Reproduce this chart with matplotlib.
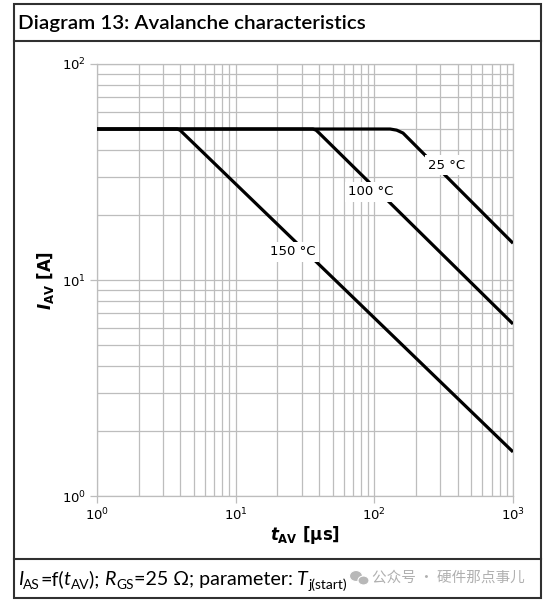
import matplotlib
matplotlib.use('Agg')
import matplotlib.pyplot as plt
import matplotlib.ticker as mticker
from matplotlib.patches import Rectangle, Ellipse
from matplotlib.lines import Line2D

# curve data (t in us, I in A)
t_25 = [1, 130, 145, 161, 1000]
i_25 = [50, 50, 49.4, 47.9, 14.8]
t_100 = [1, 36.1, 38.0, 40.0, 1000]
i_100 = [50, 50, 49.4, 47.9, 6.26]
t_150 = [1, 3.78, 3.97, 4.17, 1000]
i_150 = [50, 50, 49.4, 47.9, 1.60]
curve_labels = ['25 °C', '100 °C', '150 °C']
label_pos = [(334, 34), (94.6, 25.6), (25.9, 13.5)]

W, H = 543, 600
plt.rcParams['mathtext.fontset'] = 'custom'
plt.rcParams['mathtext.rm'] = 'DejaVu Sans:bold'
plt.rcParams['mathtext.it'] = 'DejaVu Sans:bold:italic'
plt.rcParams['mathtext.bf'] = 'DejaVu Sans:bold'

fig = plt.figure(figsize=(W/100, H/100), dpi=100)
renderer = fig.canvas.get_renderer()

def fx(px):
    return px / W

def fy(py):
    return 1 - py / H

ax = fig.add_axes([fx(97), fy(496), fx(513) - fx(97), fy(64) - fy(496)])
gridc = '#bdbdbd'
for t, i in [(t_25, i_25), (t_100, i_100), (t_150, i_150)]:
    ax.plot(t, i, color='black', lw=2.3, solid_capstyle='butt', zorder=3)

ax.set_xscale('log')
ax.set_yscale('log')
ax.set_xlim(1, 1000)
ax.set_ylim(1, 100)
ax.xaxis.set_minor_locator(mticker.LogLocator(subs=range(2, 10)))
ax.yaxis.set_minor_locator(mticker.LogLocator(subs=range(2, 10)))
ax.xaxis.set_minor_formatter(mticker.NullFormatter())
ax.yaxis.set_minor_formatter(mticker.NullFormatter())
ax.grid(True, which='both', color=gridc, lw=0.9)
for s in ax.spines.values():
    s.set_color(gridc)
    s.set_linewidth(0.9)
ax.tick_params(which='major', length=5, width=0.9, color=gridc, labelsize=9.5, pad=3)
ax.tick_params(which='minor', length=0)

for lab, (x, y) in zip(curve_labels, label_pos):
    ax.text(x, y, lab, fontsize=9.5, ha='center', va='center', zorder=4,
            bbox=dict(facecolor='white', edgecolor='none', pad=2.5))

fig.text(fx(305), fy(535), r'$\mathit{t}_{\mathrm{AV}}$ [µs]', fontsize=12,
         fontweight='bold', ha='center', va='center')
fig.text(fx(45), fy(280), r'$\mathit{I}_{\mathrm{AV}}$ [A]', fontsize=12,
         fontweight='bold', ha='center', va='center', rotation=90)

# frame around the chart
fc = '#303030'
fig.add_artist(Rectangle((fx(13.5), fy(598)), fx(541) - fx(13.5), fy(4) - fy(598),
                         transform=fig.transFigure, fill=False, ec=fc, lw=1.5))
for py in [41, 559]:
    fig.add_artist(Line2D([fx(13.5), fx(541)], [fy(py), fy(py)],
                          transform=fig.transFigure, color=fc, lw=1.5))

tfont = 'Lato'
title = fig.text(fx(18), fy(23), 'Diagram 13: Avalanche characteristics', fontsize=16,
                 family=tfont, fontweight='semibold', ha='left', va='center')
w = title.get_window_extent(renderer).width
title.set_fontsize(16 * 347 / w)

# footer, composed piece by piece
pieces = [('I', 'italic', 1), ('AS', 'normal', 0), ('=f(', 'normal', 1),
          ('t', 'italic', 1), ('AV', 'normal', 0), ('); ', 'normal', 1),
          ('R', 'italic', 1), ('GS', 'normal', 0), ('=25 Ω; parameter: ', 'normal', 1),
          ('T', 'italic', 1), ('j(start)', 'normal', 0)]

def draw_footer(scale):
    arts = []
    xpos = 18
    base = 585
    for txt, style, big in pieces:
        size = (15 if big else 10.5) * scale
        yb = base if big else base + 4 * scale
        a = fig.text(fx(xpos), fy(yb), txt, fontsize=size, family=tfont,
                     style=style, ha='left', va='baseline')
        xpos += a.get_window_extent(renderer).width
        arts.append(a)
    return arts, xpos

arts, xend = draw_footer(1.0)
for a in arts:
    a.remove()
draw_footer((348 - 18) / (xend - 18))

# watermark
wm = '#b8b8b8'
fig.add_artist(Ellipse((fx(356), fy(576)), 13 / W, 11 / H, transform=fig.transFigure,
                       fc=wm, ec='white', lw=0.8))
fig.add_artist(Ellipse((fx(363.5), fy(580.5)), 11 / W, 9 / H, transform=fig.transFigure,
                       fc=wm, ec='white', lw=0.8))
fig.text(fx(372), fy(578), '公众号 · 硬件那点事儿', fontsize=10.5, color='#b0b0b0',
         family=['Noto Sans CJK SC', 'DejaVu Sans'], ha='left', va='center')

fig.savefig('out.png', dpi=100)
